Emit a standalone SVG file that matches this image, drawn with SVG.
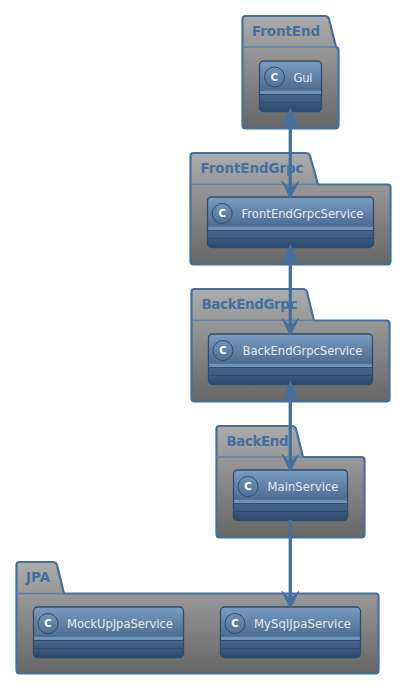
<svg xmlns="http://www.w3.org/2000/svg" width="402" height="685" viewBox="0 0 402 685">
<style>
.pk{fill:url(#pg);stroke:#44709f;stroke-width:2.2}
.dv{fill:none;stroke:#5c80a8;stroke-width:1.6}
.pt{font:bold 13.4px "DejaVu Sans",sans-serif;fill:#44709f}
.cb{fill:url(#cg);stroke:#2f4c6e;stroke-width:1.3}
.cs{fill:#7093ba;stroke:none}
.cl{stroke:#2f4c6e;stroke-width:1;fill:none}
.cc{fill:none;stroke:#2f4c6e;stroke-width:1}
.ct{font:bold 10px "DejaVu Sans",sans-serif;fill:#fff;text-anchor:middle}
.cn{font:11.6px "DejaVu Sans",sans-serif;fill:#e4e9f1}
.ln{stroke:#44709f;stroke-width:3.3;fill:none}
.ah{fill:#44709f;stroke:#44709f;stroke-width:1}
</style>
<defs>
<linearGradient id="pg" x1="0" y1="0" x2="0" y2="1"><stop offset="0" stop-color="#acacac"/><stop offset="1" stop-color="#666666"/></linearGradient>
<linearGradient id="cg" x1="0" y1="0" x2="0" y2="1"><stop offset="0" stop-color="#7a9cc2"/><stop offset="1" stop-color="#2c4a6c"/></linearGradient>
</defs>
<g id="pkg-FrontEnd"><path class="pk" d="M245.500 16H325Q328 16 329 19L336 47Q338.500 47.500 338.500 50V125Q338.500 128.500 335.500 128.500H245.500Q242.500 128.500 242.500 125V19Q242.500 16 245.500 16Z"/><path class="dv" d="M242.500 47H336"/><text class="pt" x="252" y="36" textLength="68">FrontEnd</text></g>
<g id="pkg-FrontEndGrpc"><path class="pk" d="M193.500 153H306Q309 153 310 156L318 184.500H387.500Q390.500 184.500 390.500 187.500V261Q390.500 264.500 387.500 264.500H193.500Q190.500 264.500 190.500 261V156Q190.500 153 193.500 153Z"/><path class="dv" d="M190.500 184.500H318"/><text class="pt" x="200.500" y="173" textLength="103">FrontEndGrpc</text></g>
<g id="pkg-BackEndGrpc"><path class="pk" d="M194.500 289H303Q306 289 307 292L314 320.500H386.500Q389.500 320.500 389.500 323.500V398Q389.500 401.500 386.500 401.500H194.500Q191.500 401.500 191.500 398V292Q191.500 289 194.500 289Z"/><path class="dv" d="M191.500 320.500H314"/><text class="pt" x="201.500" y="309" textLength="96">BackEndGrpc</text></g>
<g id="pkg-BackEnd"><path class="pk" d="M219.500 426H292Q295 426 296 429L303 457H361.500Q364.500 457 364.500 460V534Q364.500 537.500 361.500 537.500H219.500Q216.500 537.500 216.500 534V429Q216.500 426 219.500 426Z"/><path class="dv" d="M216.500 457H303"/><text class="pt" x="226.500" y="446" textLength="62">BackEnd</text></g>
<g id="pkg-JPA"><path class="pk" d="M19.500 562H53Q56 562 57 565L64 593.500H375.500Q378.500 593.500 378.500 596.500V670Q378.500 673.500 375.500 673.500H19.500Q16.500 673.500 16.500 670V565Q16.500 562 19.500 562Z"/><path class="dv" d="M16.500 593.500H64"/><text class="pt" x="26" y="582" textLength="24">JPA</text></g>
<g id="Gui"><rect class="cb" x="259.500" y="61" width="62" height="50.500" rx="4"/><rect class="cs" x="260.200" y="90.800" width="60.600" height="3.400"/><path class="cl" d="M259.500 94.500H321.500M259.500 102.500H321.500"/><circle class="cc" cx="274.500" cy="77" r="10"/><text class="ct" x="274.500" y="80.500">C</text><text class="cn" x="293.500" y="81.500" textLength="19">Gui</text></g>
<g id="FrontEndGrpcService"><rect class="cb" x="207.500" y="197" width="166" height="50.500" rx="4"/><rect class="cs" x="208.200" y="226.800" width="164.600" height="3.400"/><path class="cl" d="M207.500 230.500H373.500M207.500 238.500H373.500"/><circle class="cc" cx="222.200" cy="213.500" r="10"/><text class="ct" x="222.200" y="217">C</text><text class="cn" x="241.500" y="218" textLength="122">FrontEndGrpcService</text></g>
<g id="BackEndGrpcService"><rect class="cb" x="208.500" y="334" width="164" height="50.500" rx="4"/><rect class="cs" x="209.200" y="363.800" width="162.600" height="3.400"/><path class="cl" d="M208.500 367.500H372.500M208.500 375.500H372.500"/><circle class="cc" cx="223" cy="350.500" r="10"/><text class="ct" x="223" y="354">C</text><text class="cn" x="242.500" y="355" textLength="120">BackEndGrpcService</text></g>
<g id="MainService"><rect class="cb" x="233.500" y="470" width="114" height="50.500" rx="4"/><rect class="cs" x="234.200" y="499.800" width="112.600" height="3.400"/><path class="cl" d="M233.500 503.500H347.500M233.500 511.500H347.500"/><circle class="cc" cx="248" cy="486.500" r="10"/><text class="ct" x="248" y="490">C</text><text class="cn" x="267.500" y="491" textLength="71">MainService</text></g>
<g id="MockUpJpaService"><rect class="cb" x="33.500" y="607" width="150" height="50.500" rx="4"/><rect class="cs" x="34.200" y="636.800" width="148.600" height="3.400"/><path class="cl" d="M33.500 640.500H183.500M33.500 648.500H183.500"/><circle class="cc" cx="48" cy="623.500" r="10"/><text class="ct" x="48" y="627">C</text><text class="cn" x="67" y="628" textLength="106">MockUpJpaService</text></g>
<g id="MySqlJpaService"><rect class="cb" x="220.500" y="607" width="140" height="50.500" rx="4"/><rect class="cs" x="221.200" y="636.800" width="138.600" height="3.400"/><path class="cl" d="M220.500 640.500H360.500M220.500 648.500H360.500"/><circle class="cc" cx="235" cy="623.500" r="10"/><text class="ct" x="235" y="627">C</text><text class="cn" x="254" y="628" textLength="97">MySqlJpaService</text></g>
<g id="connectors">
<path class="ln" d="M290.300 118V190"/><path class="ln" d="M290.300 254V327"/><path class="ln" d="M290.300 391V463"/><path class="ln" d="M290.300 520V600"/>
<path class="ah" d="M290.300 108L298 128.500L290.300 122L282.600 128.500Z"/>
<path class="ah" d="M290.300 198L282 181.500L290.300 189L298.600 181.500Z"/>
<path class="ah" d="M290.300 244.500L298 265L290.300 258.500L282.600 265Z"/>
<path class="ah" d="M290.300 335L282 318.500L290.300 326L298.600 318.500Z"/>
<path class="ah" d="M290.300 381.500L298 402L290.300 395.500L282.600 402Z"/>
<path class="ah" d="M290.300 471L282 454.500L290.300 462L298.600 454.500Z"/>
<path class="ah" d="M290.300 608L282 591.500L290.300 599L298.600 591.500Z"/>
</g>
</svg>
